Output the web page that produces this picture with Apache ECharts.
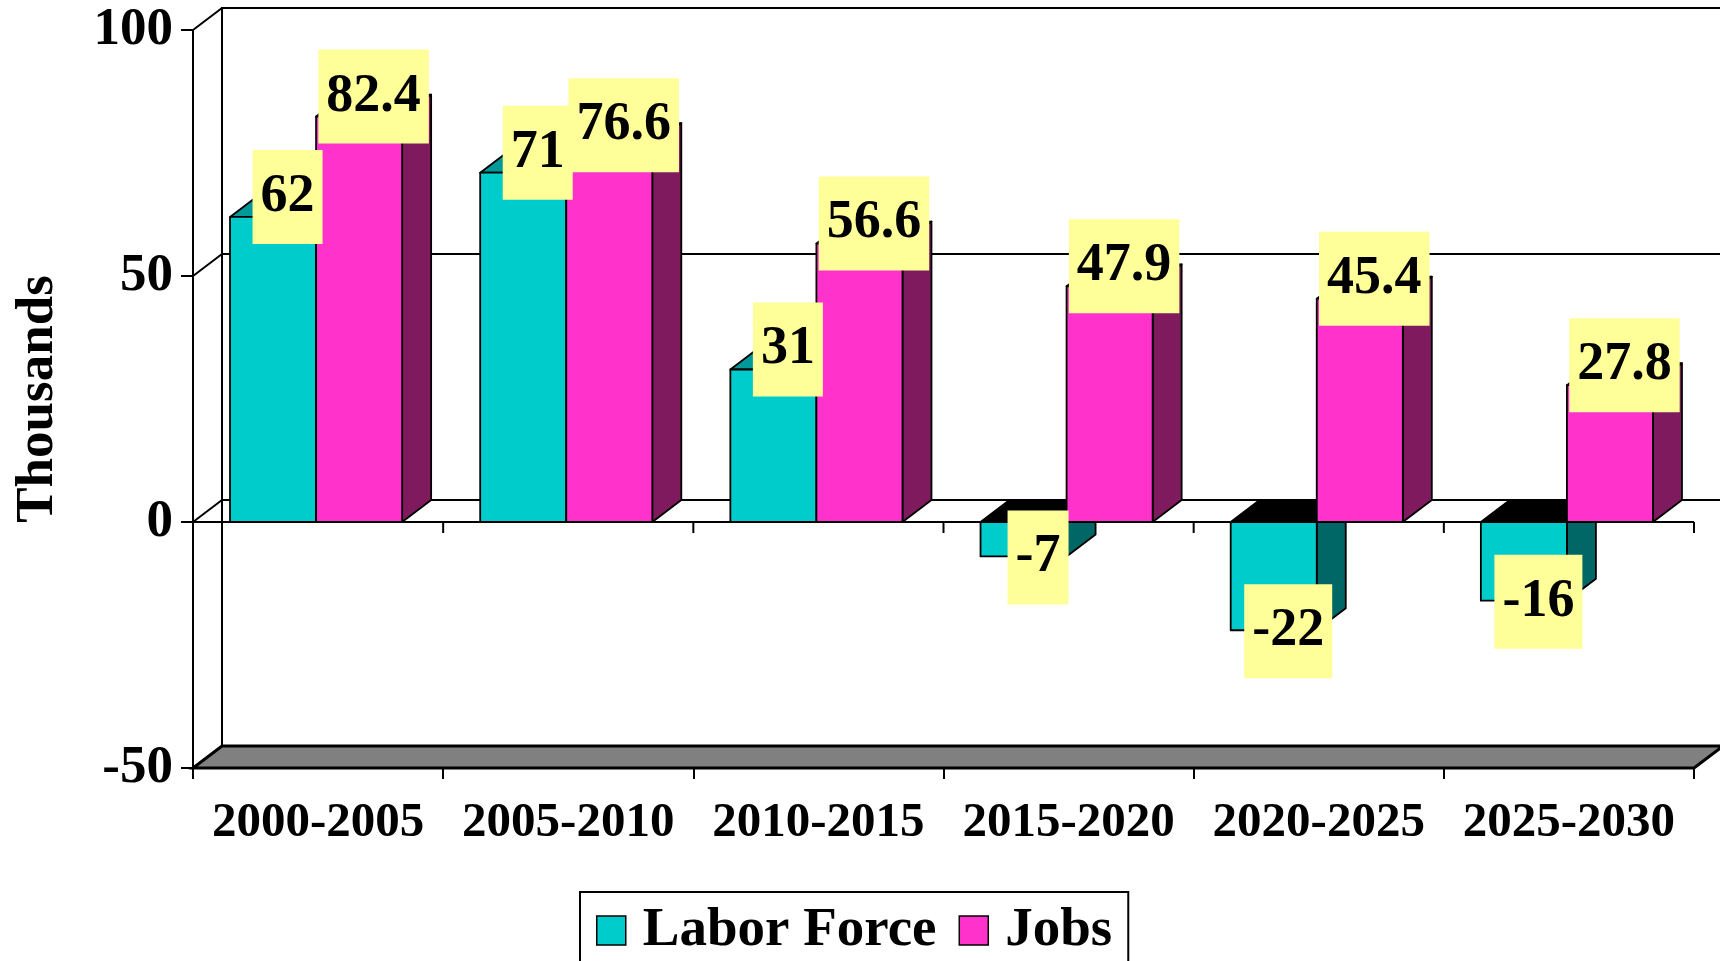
<!DOCTYPE html>
<html>
<head>
<meta charset="utf-8">
<script src="https://cdn.jsdelivr.net/npm/echarts@6/dist/echarts.min.js"></script>
<style>
  html, body { margin: 0; padding: 0; background: #fff; }
  #chart { width: 1720px; height: 961px; }
</style>
</head>
<body>
<div id="chart"></div>
<script>
const categories = ["2000-2005", "2005-2010", "2010-2015", "2015-2020", "2020-2025", "2025-2030"];
const laborForce = [62, 71, 31, -7, -22, -16];
const jobs = [82.4, 76.6, 56.6, 47.9, 45.4, 27.8];
const yTicks = [-50, 0, 50, 100];

const DX = 29, DY = 22; // depth of the 3d look
const FONT = '"Liberation Serif", "Times New Roman", serif';

const looks = [
  { front: "#00cccc", top: "#009999", side: "#006666" },
  { front: "#ff33cc", top: "#b3248f", side: "#801a5e" }
];

function barRender(k) {
  return function (params, api) {
    const ci = api.value(0), v = api.value(1);
    const cw = api.size([1, 0])[0];
    const p = api.coord([ci, v]);
    const z = api.coord([ci, 0]);
    const bw = cw * 0.344;
    const x0 = p[0] - cw / 2 + cw * 0.148 + k * bw, x1 = x0 + bw;
    const yv = p[1], y0 = z[1];
    const c = looks[k];
    const line = { stroke: "#000", lineWidth: 1.8, lineJoin: "round" };
    const kids = [];
    if (v >= 0) {
      kids.push({ type: "polygon", shape: { points: [[x0, yv], [x1, yv], [x1 + DX, yv - DY], [x0 + DX, yv - DY]] }, style: Object.assign({ fill: c.top }, line) });
      kids.push({ type: "polygon", shape: { points: [[x1, yv], [x1 + DX, yv - DY], [x1 + DX, y0 - DY], [x1, y0]] }, style: Object.assign({ fill: c.side }, line) });
      kids.push({ type: "rect", shape: { x: x0, y: yv, width: bw, height: y0 - yv }, style: Object.assign({ fill: c.front }, line) });
    } else {
      kids.push({ type: "polygon", shape: { points: [[x0, y0], [x1, y0], [x1 + DX, y0 - DY], [x0 + DX, y0 - DY]] }, style: Object.assign({ fill: "#000" }, line) });
      kids.push({ type: "polygon", shape: { points: [[x1, y0], [x1 + DX, y0 - DY], [x1 + DX, yv - DY], [x1, yv]] }, style: Object.assign({ fill: c.side }, line) });
      kids.push({ type: "rect", shape: { x: x0, y: y0, width: bw, height: yv - y0 }, style: Object.assign({ fill: c.front }, line) });
    }
    kids.push({
      type: "text",
      z2: 100,
      style: {
        text: String(v),
        x: (x0 + x1) / 2 + DX / 2,
        y: yv - DY / 2 + (v >= 0 ? -9 : 12),
        align: "center",
        verticalAlign: "middle",
        font: "bold 54px " + FONT,
        fill: "#000",
        backgroundColor: "#ffff99",
        padding: [20, 8]
      }
    });
    return { type: "group", children: kids };
  };
}

function frameRender(params, api) {
  if (params.dataIndex !== 0) return;
  const cs = params.coordSys;
  const L = cs.x, R = cs.x + cs.width, T = cs.y, B = cs.y + cs.height;
  const y0 = api.coord([0, 0])[1];
  const cw = api.size([1, 0])[0];
  const thin = { stroke: "#000", lineWidth: 2, fill: null };
  const kids = [];
  // zero floor (open on the right, like the original)
  kids.push({ type: "polygon", shape: { points: [[L, y0], [R, y0], [R + DX, y0 - DY], [L + DX, y0 - DY]] }, style: { fill: "#fff" } });
  kids.push({ type: "line", shape: { x1: L, y1: y0, x2: R, y2: y0 }, style: thin });
  kids.push({ type: "line", shape: { x1: L + DX, y1: y0 - DY, x2: R + DX, y2: y0 - DY }, style: thin });
  // back wall
  kids.push({ type: "polyline", shape: { points: [[L + DX, B - DY], [L + DX, T - DY], [R + DX, T - DY]] }, style: thin });
  yTicks.forEach(t => {
    const y = api.coord([0, t])[1];
    if (t > yTicks[0] && t < yTicks[yTicks.length - 1] && t !== 0) {
      kids.push({ type: "line", shape: { x1: L + DX, y1: y - DY, x2: R + DX, y2: y - DY }, style: thin });
    }
    kids.push({ type: "line", shape: { x1: L, y1: y, x2: L + DX, y2: y - DY }, style: thin });
  });
  // ticks on the zero line
  for (let i = 0; i <= categories.length; i++) {
    const x = L + i * cw;
    kids.push({ type: "line", shape: { x1: x, y1: y0, x2: x, y2: y0 + 11 }, style: thin });
  }
  // gray floor at the bottom
  kids.push({ type: "polygon", shape: { points: [[L, B], [R, B], [R + DX, B - DY], [L + DX, B - DY]] }, style: { fill: "#808080", stroke: "#000", lineWidth: 3, lineJoin: "miter" } });
  return { type: "group", children: kids };
}

const chart = echarts.init(document.getElementById("chart"), null, { renderer: "canvas" });
chart.setOption({
  animation: false,
  backgroundColor: "#fff",
  grid: { left: 193, right: 26, top: 30, bottom: 193, containLabel: false },
  legend: {
    left: 580,
    top: 892,
    orient: "horizontal",
    padding: [11, 16, 20, 16],
    borderColor: "#000",
    borderWidth: 2,
    itemWidth: 29,
    itemHeight: 29,
    itemGap: 22,
    textStyle: { fontFamily: FONT, fontWeight: "bold", fontSize: 55, color: "#000", padding: [0, 0, 0, 12] },
    data: [
      { name: "Labor Force", icon: "rect", itemStyle: { color: looks[0].front, borderColor: "#000", borderWidth: 1.5 } },
      { name: "Jobs", icon: "rect", itemStyle: { color: looks[1].front, borderColor: "#000", borderWidth: 1.5 } }
    ]
  },
  xAxis: {
    type: "category",
    data: categories,
    boundaryGap: true,
    axisLine: { onZero: false, lineStyle: { color: "#000", width: 2 } },
    axisTick: { show: true, interval: 0, length: 11, lineStyle: { color: "#000", width: 2 } },
    axisLabel: { interval: 0, color: "#000", fontFamily: FONT, fontWeight: "bold", fontSize: 49, margin: 31 },
    splitLine: { show: false }
  },
  yAxis: {
    type: "value",
    min: -50,
    max: 100,
    interval: 50,
    name: "Thousands",
    nameLocation: "middle",
    nameGap: 128,
    nameTextStyle: { color: "#000", fontFamily: FONT, fontWeight: "bold", fontSize: 53 },
    axisLine: { show: true, lineStyle: { color: "#000", width: 2 } },
    axisTick: { show: true, length: 12, lineStyle: { color: "#000", width: 2 } },
    axisLabel: { color: "#000", fontFamily: FONT, fontWeight: "bold", fontSize: 53, margin: 20 },
    splitLine: { show: false }
  },
  series: [
    {
      name: "frame",
      type: "custom",
      z: 1,
      silent: true,
      renderItem: frameRender,
      data: [[0, 0]]
    },
    {
      name: "Labor Force",
      type: "custom",
      z: 2,
      itemStyle: { color: looks[0].front },
      renderItem: barRender(0),
      data: laborForce.map((v, i) => [i, v])
    },
    {
      name: "Jobs",
      type: "custom",
      z: 2,
      itemStyle: { color: looks[1].front },
      renderItem: barRender(1),
      data: jobs.map((v, i) => [i, v])
    }
  ]
});
window.addEventListener("resize", () => chart.resize());
</script>
</body>
</html>
